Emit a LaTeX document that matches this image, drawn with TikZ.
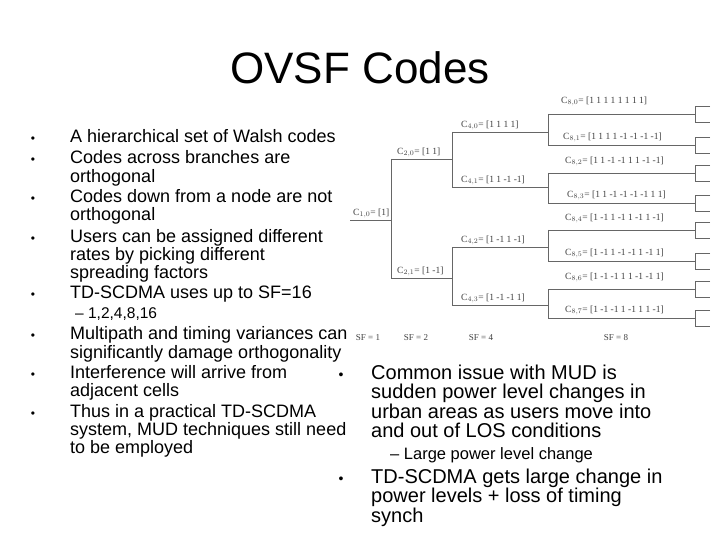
\documentclass[tikz,border=0pt]{standalone}
\usepackage{fontspec}
\setmainfont{Liberation Sans}
\newfontfamily\serf{Liberation Serif}
\begin{document}
\begin{tikzpicture}[x=1pt,y=-1pt,
  txt/.style={anchor=base west,inner sep=0pt,font=\fontsize{18}{20}\selectfont},
  rtx/.style={anchor=base west,inner sep=0pt,font=\fontsize{20}{22}\selectfont},
  sub/.style={anchor=base west,inner sep=0pt,font=\fontsize{15.5}{17}\selectfont},
  bul/.style={anchor=base,inner sep=0pt,font=\fontsize{12}{14}\selectfont},
  tl/.style={anchor=south west,inner sep=1pt,font=\serf\fontsize{9.5}{10}\selectfont,text=black!75},
  tr/.style={draw=black!60,line width=0.8pt}]
\useasboundingbox (0,0) rectangle (720,540);
\fill[white] (0,0) rectangle (720,540);
\node[inner sep=0pt,font=\fontsize{44}{48}\selectfont] (title) at (360,68) {OVSF Codes};
\foreach \y in {137,158,197,236,292,333,372,411} \node[bul] at (33,\y+6) {•};
\node[txt] (l1) at (70,143) {A hierarchical set of Walsh codes};
\node[txt] (l2) at (70,164) {Codes across branches are};
\node[txt] (l3) at (70,183) {orthogonal};
\node[txt] (l4) at (70,203) {Codes down from a node are not};
\node[txt] (l5) at (70,221) {orthogonal};
\node[txt] (l6) at (70,242) {Users can be assigned different};
\node[txt] (l7) at (70,260) {rates by picking different};
\node[txt] (l8) at (70,278) {spreading factors};
\node[txt] (l9) at (70,298) {TD-SCDMA uses up to SF=16};
\node[sub] (s1) at (75,318) {– 1,2,4,8,16};
\node[txt] (l10) at (70,339) {Multipath and timing variances can};
\node[txt] (l11) at (70,358) {significantly damage orthogonality};
\node[txt] (l12) at (70,378) {Interference will arrive from};
\node[txt] (l13) at (70,396) {adjacent cells};
\node[txt] (l14) at (70,417) {Thus in a practical TD-SCDMA};
\node[txt] (l15) at (70,435) {system, MUD techniques still need};
\node[txt] (l16) at (70,453) {to be employed};
\foreach \y in {372,476} \node[bul,font=\fontsize{14}{16}\selectfont] at (341,\y+7) {•};
\node[rtx] (r1) at (371,379) {Common issue with MUD is};
\node[rtx] (r2) at (371,398) {sudden power level changes in};
\node[rtx] (r3) at (371,418) {urban areas as users move into};
\node[rtx] (r4) at (371,437) {and out of LOS conditions};
\node[sub,font=\fontsize{16.5}{18}\selectfont] (rs) at (390,459) {– Large power level change};
\node[rtx] (r5) at (371,483) {TD-SCDMA gets large change in};
\node[rtx] (r6) at (371,502) {power levels + loss of timing};
\node[rtx] (r7) at (371,522) {synch};
\draw[tr] (350,220) -- (391,220) (391,159) -- (391,278);
\draw[tr] (391,159) -- (452,159) (391,278) -- (452,278);
\draw[tr] (452,132) -- (452,187) (452,247) -- (452,305);
\foreach \y in {132,187,247,305} \draw[tr] (452,\y) -- (548,\y);
\foreach \a/\b in {114/145,173/203,230/261,289/318} \draw[tr] (548,\a) -- (548,\b);
\foreach \y in {114,145,173,203,230,261,289,318} {
  \draw[tr] (548,\y) -- (695,\y);
  \draw[tr] (710,\y-8) -- (695,\y-8) -- (695,\y+8) -- (710,\y+8);}
\node[tl] (c10) at (352,219) {C$_{1,0}$= [1]};
\node[tl] (c20) at (396,158) {C$_{2,0}$= [1 1]};
\node[tl] (c21) at (396,277) {C$_{2,1}$= [1 -1]};
\node[tl] (c40) at (460,131) {C$_{4,0}$= [1 1 1 1]};
\node[tl] (c41) at (460,186) {C$_{4,1}$= [1 1 -1 -1]};
\node[tl] (c42) at (460,246) {C$_{4,2}$= [1 -1 1 -1]};
\node[tl] (c43) at (460,304) {C$_{4,3}$= [1 -1 -1 1]};
\node[tl] (c80) at (560,107) {C$_{8,0}$= [1 1 1 1 1 1 1 1]};
\node[tl] (c81) at (562,143) {C$_{8,1}$= [1 1 1 1 -1 -1 -1 -1]};
\node[tl] (c82) at (564,167) {C$_{8,2}$= [1 1 -1 -1 1 1 -1 -1]};
\node[tl] (c83) at (566,201) {C$_{8,3}$= [1 1 -1 -1 -1 -1 1 1]};
\node[tl] (c84) at (564,224) {C$_{8,4}$= [1 -1 1 -1 1 -1 1 -1]};
\node[tl] (c85) at (564,259) {C$_{8,5}$= [1 -1 1 -1 -1 1 -1 1]};
\node[tl] (c86) at (564,283) {C$_{8,6}$= [1 -1 -1 1 1 -1 -1 1]};
\node[tl] (c87) at (564,316) {C$_{8,7}$= [1 -1 -1 1 -1 1 1 -1]};
\foreach \x/\t in {368/1,416/2,481/4,616/8}
  \node[inner sep=0pt,font=\serf\fontsize{9}{10}\selectfont,text=black!75] at (\x,338) {SF = \t};
\end{tikzpicture}
\end{document}
